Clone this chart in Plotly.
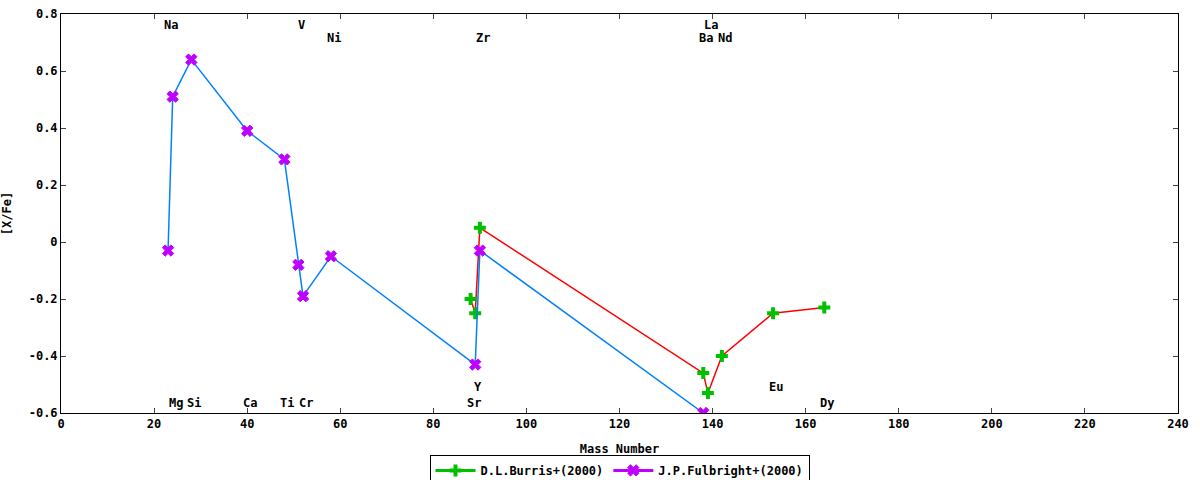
import plotly.graph_objects as go

# D.L.Burris+(2000)
burris_mass = [88, 89, 90, 138, 139, 142, 153, 164]
burris_xfe = [-0.20, -0.25, 0.05, -0.46, -0.53, -0.40, -0.25, -0.23]

# J.P.Fulbright+(2000)
fulbright_mass = [23, 24, 28, 40, 48, 51, 52, 58, 89, 90, 138]
fulbright_xfe = [-0.03, 0.51, 0.64, 0.39, 0.29, -0.08, -0.19, -0.05, -0.43, -0.03, -0.60]

# element labels
elem_names = ["Na", "V", "La", "Ni", "Zr", "Ba", "Nd",
              "Y", "Eu", "Mg", "Si", "Ca", "Ti", "Cr", "Sr", "Dy"]
elem_mass = [23, 51, 139, 58, 90, 138, 142,
             89, 153, 24, 28, 40, 48, 52, 88, 164]
elem_y = [0.76, 0.76, 0.76, 0.715, 0.715, 0.715, 0.715,
          -0.51, -0.51, -0.565, -0.565, -0.565, -0.565, -0.565, -0.565, -0.565]

x_ticks = [0, 20, 40, 60, 80, 100, 120, 140, 160, 180, 200, 220, 240]
y_ticks = [-0.6, -0.4, -0.2, 0, 0.2, 0.4, 0.6, 0.8]
y_ticktext = ["-0.6", "-0.4", "-0.2", "0", "0.2", "0.4", "0.6", "0.8"]

font = dict(family="DejaVu Sans Mono", size=12, color="black", weight="bold")
green, red, blue, purple = "#00c000", "#ff0000", "#0080ff", "#c000ff"

fig = go.Figure()

# lines + markers (legend drawn with dummy traces below)
fig.add_trace(go.Scatter(x=burris_mass, y=burris_xfe, mode="lines+markers",
                         line=dict(color=red, width=1.5),
                         marker=dict(symbol="cross", size=10, color=green),
                         showlegend=False))
fig.add_trace(go.Scatter(x=fulbright_mass, y=fulbright_xfe, mode="lines+markers",
                         line=dict(color=blue, width=1.5),
                         marker=dict(symbol="x", size=10, color=purple,
                                     line=dict(color=purple, width=1)),
                         showlegend=False))
fig.add_trace(go.Scatter(x=[None], y=[None], mode="lines+markers", name="D.L.Burris+(2000)",
                         line=dict(color=green, width=3),
                         marker=dict(symbol="cross", size=10, color=green)))
fig.add_trace(go.Scatter(x=[None], y=[None], mode="lines+markers", name="J.P.Fulbright+(2000)",
                         line=dict(color=purple, width=3),
                         marker=dict(symbol="x", size=10, color=purple,
                                     line=dict(color=purple, width=1))))

for n, m, yy in zip(elem_names, elem_mass, elem_y):
    fig.add_annotation(x=m, y=yy, text=n, showarrow=False, xshift=3,
                       font=font)

fig.update_xaxes(range=[0, 240], tickvals=x_ticks, ticks="inside", ticklen=5,
                 showgrid=False, zeroline=False, showline=True, linecolor="black",
                 linewidth=1, mirror="ticks", tickfont=font, automargin=False,
                 ticklabeloverflow="allow",
                 title=dict(text="Mass Number", font=font, standoff=14))
fig.update_yaxes(range=[-0.6, 0.8], tickvals=y_ticks, ticktext=y_ticktext,
                 ticks="inside", ticklen=5, showgrid=False, zeroline=False,
                 showline=True, linecolor="black", linewidth=1, mirror="ticks",
                 tickfont=font, automargin=False, ticklabeloverflow="allow",
                 title=dict(text="[X/Fe]", font=font, standoff=14))

fig.update_layout(width=1200, height=480, plot_bgcolor="white", paper_bgcolor="white",
                  margin=dict(l=61, r=22, t=14, b=67, autoexpand=False), font=font,
                  legend=dict(orientation="h", x=0.5, xanchor="center", y=-0.105,
                              yanchor="top", bordercolor="black", borderwidth=1,
                              font=font, itemwidth=40, tracegroupgap=0))

# drop the page's default body margin so the chart sits at the top-left corner
fig.write_html("out.html", config={"displayModeBar": False},
               post_script="document.body.style.margin='0';")
